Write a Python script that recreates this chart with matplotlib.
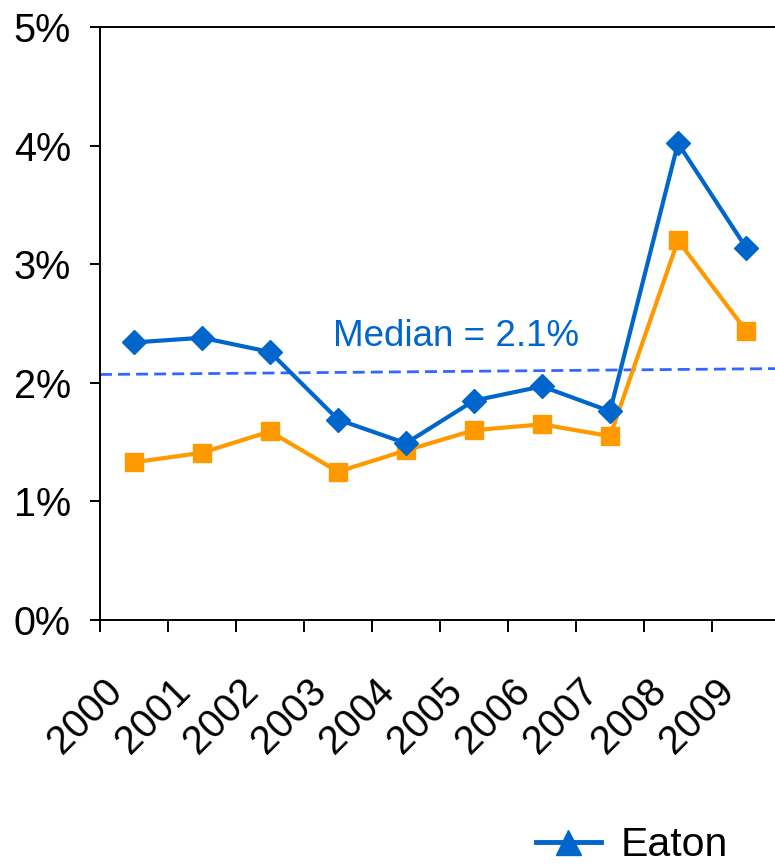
import numpy as np
import matplotlib
matplotlib.use('Agg')
import matplotlib.pyplot as plt
import matplotlib.transforms as mtransforms
from matplotlib.lines import Line2D

plt.rcParams['font.family'] = ['Liberation Sans', 'DejaVu Sans']

# data (percent)
years = ['2000', '2001', '2002', '2003', '2004', '2005', '2006', '2007', '2008', '2009']
eaton = [2.34, 2.38, 2.26, 1.69, 1.49, 1.85, 1.97, 1.76, 4.02, 3.14]
peers = [1.33, 1.41, 1.59, 1.25, 1.43, 1.60, 1.65, 1.55, 3.20, 2.44]
median_ends = [2.07, 2.12]  # the median line as drawn, left and right ends
median_label = 'Median = 2.1%'
y_ticks = [0, 1, 2, 3, 4, 5]

blue = '#0066CC'
orange = '#FF9900'
dash_blue = '#3366FF'

fig = plt.figure(figsize=(7.75, 8.68), dpi=100)
ax = fig.add_axes([100/775, 1 - 620/868, 680/775, 593/868])

x = np.arange(len(years)) + 0.5

ax.plot([0, len(years)], median_ends, color=dash_blue, lw=2, dashes=(4.3, 2.2), zorder=1)
ax.plot(x, peers, color=orange, lw=3, marker='s', markersize=13.5, zorder=2)
ax.plot(x, eaton, color=blue, lw=3, marker='D', markersize=12.5, zorder=3)

ax.text(5.24, 2.39, median_label, color=blue, fontsize=26.5, ha='center', va='center')

ax.set_xlim(0, len(years))
ax.set_ylim(0, 5)

ax.set_yticks(y_ticks)
ax.set_yticklabels(['%d%%' % v for v in y_ticks], fontsize=28.5)
ax.tick_params(axis='y', direction='out', length=7, width=1.4, pad=14)

ax.set_xticks(np.arange(len(years) + 1))
ax.set_xticklabels([])
ax.tick_params(axis='x', which='major', direction='out', length=8.5, width=1.4)
ax.set_xticks(x, minor=True)
ax.set_xticklabels(years, minor=True, fontsize=28.5, rotation=45, ha='right', va='top')
ax.tick_params(axis='x', which='minor', length=0, pad=37)
offset = mtransforms.ScaledTranslation(-4/100, 0, fig.dpi_scale_trans)
for lab in ax.get_xticklabels(minor=True):
    lab.set_transform(lab.get_transform() + offset)

for s in ['left', 'bottom', 'top']:
    ax.spines[s].set_linewidth(1.4)
ax.spines['right'].set_visible(False)

handle = Line2D([], [], color=blue, lw=3.5, marker='^', markersize=18)
fig.legend([handle], ['Eaton'], loc='upper left', bbox_to_anchor=(536/775, 1 - 826/868),
           frameon=False, fontsize=29.5, handlelength=1.58, handletextpad=0.49,
           borderaxespad=0, borderpad=0)

fig.savefig('out.png', dpi=100)
